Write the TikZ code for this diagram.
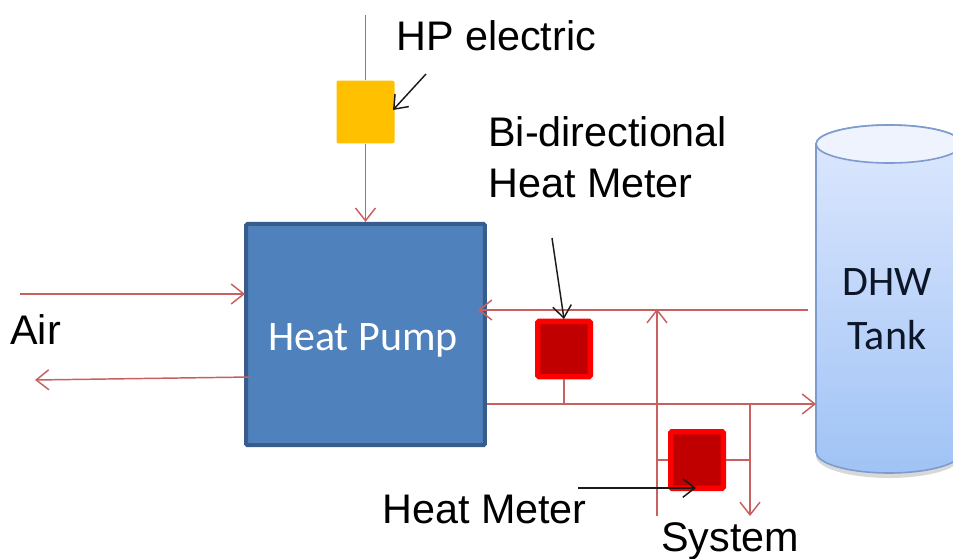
\documentclass[tikz,border=0pt]{standalone}
\usepackage{fontspec}
\setmainfont{Liberation Sans}
\newfontfamily\calib{Carlito}
\usetikzlibrary{arrows.meta}
\definecolor{pipe}{HTML}{C8605D}
\definecolor{lead}{HTML}{1A1A1A}
\tikzset{
  x=0.75pt,y=-0.75pt,
  pipeline/.style={draw=pipe,line width=1.1pt},
  thickpipe/.style={draw=pipe,line width=1.6pt},
  flow/.style={-{Straight Barb[length=9.5pt,width=15pt,line width=1.1pt]}},
  leader/.style={draw=lead,line width=1.1pt,-{Straight Barb[length=9pt,width=14pt,line width=1.1pt]}},
  label/.style={font=\fontsize{31}{37}\selectfont,text=black,inner sep=0pt,anchor=base west},
  clabel/.style={font=\calib\fontsize{31.5}{37}\selectfont,inner sep=0pt,anchor=base,align=center},
  meter/.style={draw=red,line width=4pt,fill={rgb,255:red,192;green,0;blue,0},rounded corners=1pt,minimum width=39.5pt,inner sep=0pt},
}
\begin{document}
\begin{tikzpicture}
\useasboundingbox (0,0) rectangle (953,558);
\clip (0,0) rectangle (953,558);
% tank
\fill[black!30,opacity=.5] (816,452) -- (816,456) arc[x radius=73,y radius=22,start angle=180,end angle=0] -- (962,452) -- cycle;
\path[draw={rgb,255:red,125;green,155;blue,205},line width=1.2pt,top color={rgb,255:red,222;green,232;blue,254},bottom color={rgb,255:red,160;green,195;blue,245}]
  (816,144) -- (816,452) arc[x radius=73,y radius=21,start angle=180,end angle=0] -- (962,144) arc[x radius=73,y radius=19,start angle=0,end angle=-180] -- cycle;
\path[draw={rgb,255:red,125;green,155;blue,205},line width=1.2pt,fill={rgb,255:red,238;green,243;blue,254}] (889,144) ellipse[x radius=73,y radius=19];
\node[clabel,text={rgb,255:red,12;green,22;blue,40}] (dhw) at (887,295) {DHW};
\node[clabel,text={rgb,255:red,12;green,22;blue,40}] (tank) at (887,349) {Tank};
\coordinate (tankin) at (816,404);
\coordinate (tankout) at (808,310);
% heat pump
\node[draw={rgb,255:red,56;green,93;blue,138},line width=3pt,fill={rgb,255:red,79;green,129;blue,189},rounded corners=1pt,inner sep=0pt,minimum width=179pt,minimum height=166pt] (hp) at (365.5,334.5) {};
\node[clabel,text=white,anchor=base] (hpt) at (363,350) {Heat Pump};
% meters
\node[draw=none,fill={rgb,255:red,255;green,192;blue,0},rounded corners=1.5pt,minimum width=43.5pt,minimum height=47pt,inner sep=0pt] (elec) at (365.5,112) {};
\node[meter,minimum height=41.5pt] (bi) at (564,349) {};
\node[meter,minimum height=42.5pt] (hm) at (697,460) {};
% coordinates
\coordinate (top) at (365.5,15);
\coordinate (airA) at (20,294);
\coordinate (airB) at (35,380);
\coordinate (hpin) at (245,294);
\coordinate (hpout) at (250,377);
\coordinate (hpret) at (478,310);
\coordinate (hpsup) at (487,404);
\coordinate (biJ) at (564,404);
\coordinate (riserB) at (657,516);
\coordinate (riserT) at (657,309);
\coordinate (hmL) at (657,460);
\coordinate (sysJ) at (750,404);
\coordinate (sysB) at (750,516);
\coordinate (hmR) at (750,460);
% pipes
\draw[pipeline] (top) -- (elec.north);
\draw[pipeline,flow] (elec.south) -- (hp.north);
\draw[pipeline,flow] (airA) -- (hpin);
\draw[pipeline,flow] (hpout) -- (airB);
\draw[thickpipe,flow] (tankout) -- (hpret);
\draw[thickpipe,flow] (hpsup) -- (tankin);
\draw[pipeline,flow] (riserB) -- (riserT);
\draw[pipeline] (bi.south) -- (biJ);
\draw[pipeline] (hmL) -- (hm.west);
\draw[pipeline] (hm.east) -- (hmR);
\draw[pipeline,flow] (sysJ) -- (sysB);
% leaders
\coordinate (l1) at (426,74);
\coordinate (l1e) at (393,110);
\coordinate (l2) at (552,238);
\coordinate (l2e) at (564,319);
\coordinate (l3) at (578,488);
\coordinate (l3e) at (696,488);
\draw[leader] (l1) -- (l1e);
\draw[leader] (l2) -- (l2e);
\draw[leader] (l3) -- (l3e);
% labels
\node[label] (a) at (396,50) {HP electric};
\node[label] (b) at (488,146) {Bi-directional};
\node[label] (c) at (488,197) {Heat Meter};
\node[label] (d) at (382,523) {Heat Meter};
\node[label] (e) at (661,551) {System};
\node[label] (f) at (10,344) {Air};
\end{tikzpicture}
\end{document}
